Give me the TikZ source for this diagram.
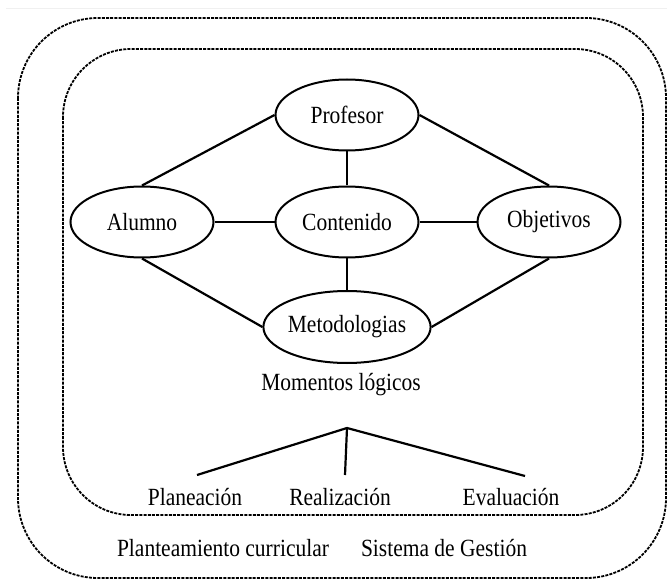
\documentclass[tikz,border=0pt]{standalone}
\usepackage{fontspec}
\setmainfont{Liberation Serif}
\usetikzlibrary{shapes.geometric}
\newcommand{\vs}[1]{\scalebox{1}[1.15]{#1}}
\begin{document}
\begin{tikzpicture}[x=1pt,y=-1pt,
  lbl/.style={font=\fontsize{21.5}{24}\selectfont, inner sep=0pt},
  ell/.style={ellipse, draw, line width=2pt, minimum width=143pt, minimum height=71pt, inner sep=0pt, font=\fontsize{21.5}{24}\selectfont},
  conn/.style={line width=2.2pt},
  frame/.style={line width=1.8pt, dash pattern=on 3pt off 1.2pt}]
\useasboundingbox (0,0) rectangle (667,580);
\draw[gray!12, line width=0.8pt] (6,8) -- (667,8);
\draw[frame, rounded corners=80pt] (18,18) rectangle (666,578);
\draw[frame, rounded corners=68pt] (63,49) rectangle (643,515);

\node[ell] (prof) at (347,115) {\vs{Profesor}};
\node[ell] (alum) at (142,222) {\vs{Alumno}};
\node[ell] (cont) at (347,222) {\vs{Contenido}};
\node[ell] (obj)  at (549,222) {\vs{Objetivos}};
\node[ell, minimum width=165pt, minimum height=72pt] (met) at (347,327) {\vs{Metodologias}};

\draw[conn] (prof.west) -- (alum.north);
\draw[conn] (prof.east) -- (obj.north);
\draw[conn] (prof) -- (cont);
\draw[conn] (alum) -- (cont);
\draw[conn] (cont) -- (obj);
\draw[conn] (cont) -- (met);
\draw[conn] (alum.south) -- (met.west);
\draw[conn] (obj.south) -- (met.east);

\node[lbl] (mom) at (341,385) {\vs{Momentos lógicos}};

\coordinate (apex) at (347,428);
\coordinate (lend) at (197,475);
\coordinate (mend) at (345,475);
\coordinate (rend) at (525,476);
\draw[conn] (lend) -- (apex) -- (rend);
\draw[conn] (apex) -- (mend);

\node[lbl] (plan) at (195,497) {\vs{Planeación}};
\node[lbl] (real) at (340,497) {\vs{Realización}};
\node[lbl] (eval) at (511,497) {\vs{Evaluación}};

\node[lbl] (pc) at (223,548) {\vs{Planteamiento curricular}};
\node[lbl] (sg) at (444,548) {\vs{Sistema de Gestión}};
\end{tikzpicture}
\end{document}
